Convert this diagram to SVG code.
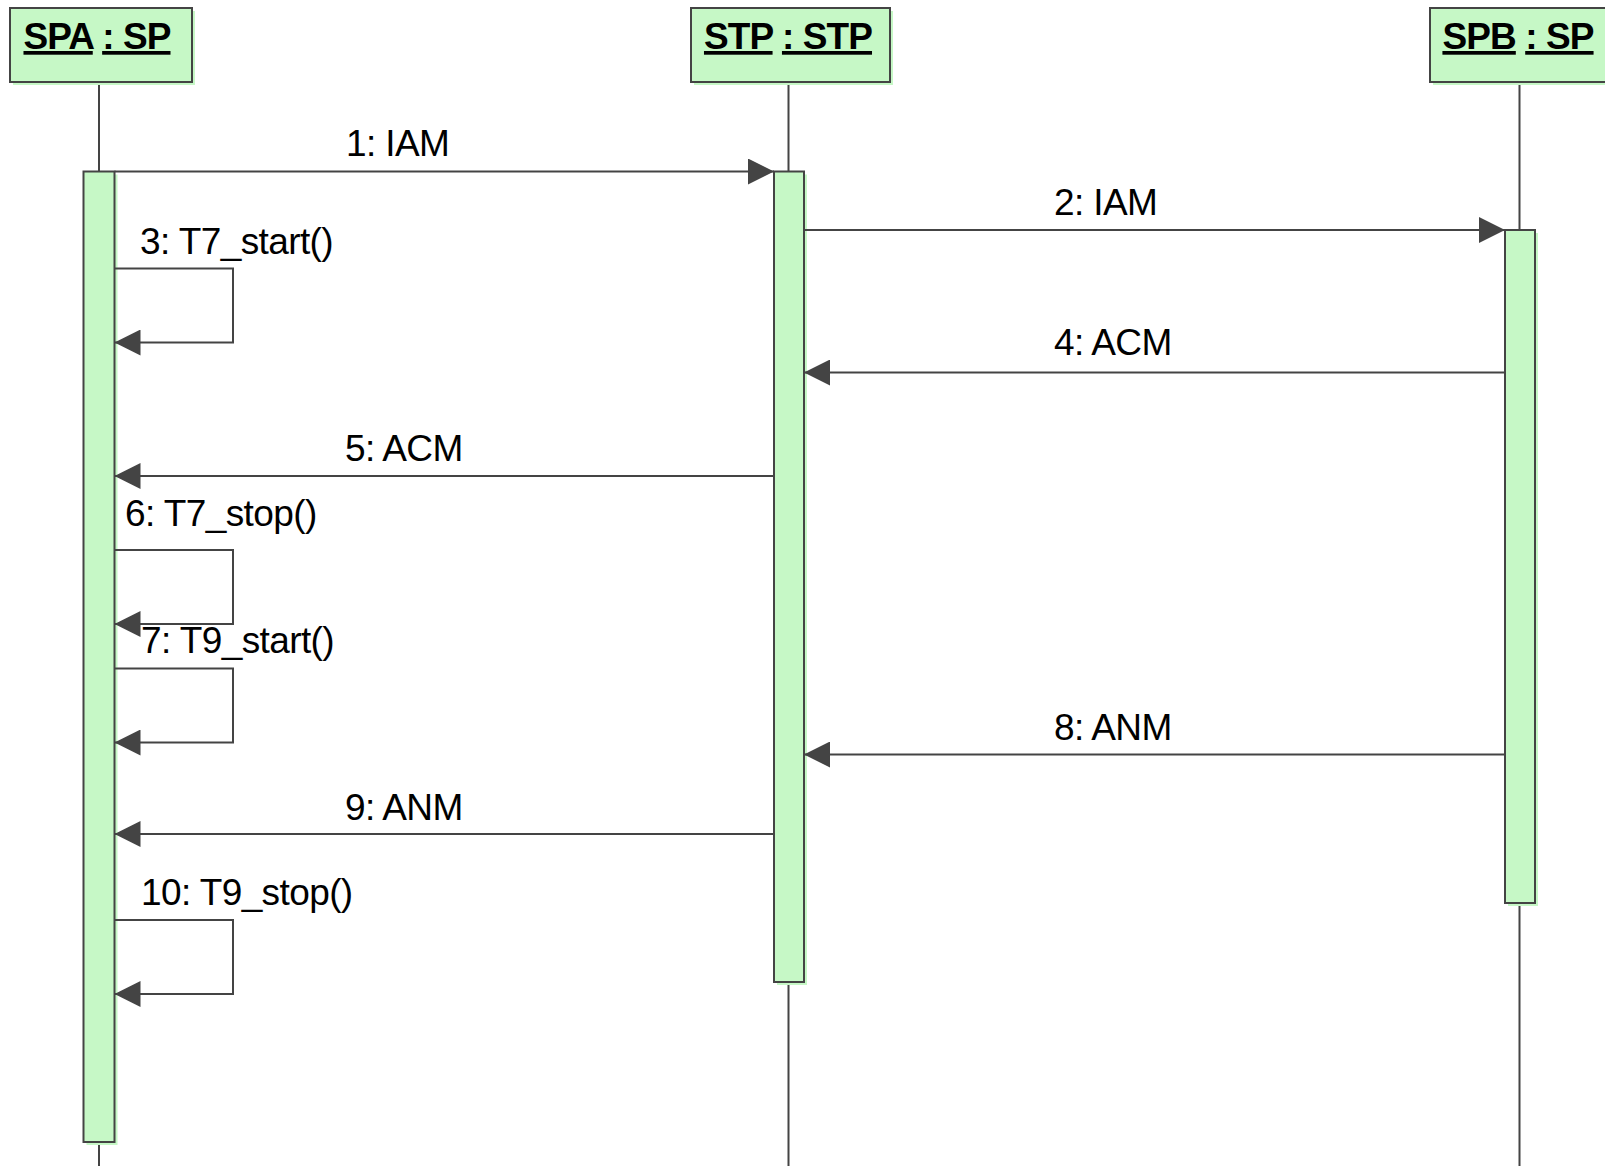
<svg xmlns="http://www.w3.org/2000/svg" width="1605" height="1166" viewBox="0 0 1605 1166">
<style>
.box{fill:#c6f8c6;stroke:#444;stroke-width:2}
.shadow{fill:#c6f8c6;stroke:none}
.life{stroke:#444;stroke-width:2;fill:none}
.msg{stroke:#444;stroke-width:2;fill:none;marker-end:url(#arr)}
.hdr{font-family:"Liberation Sans",Arial,sans-serif;font-weight:bold;font-size:37px;fill:#000;text-anchor:middle;letter-spacing:-0.9px}
.lbl{font-family:"Liberation Sans",Arial,sans-serif;font-size:37px;fill:#000;letter-spacing:-0.6px}
</style>
<defs>
<marker id="arr" markerUnits="userSpaceOnUse" markerWidth="26" markerHeight="26" refX="26" refY="13" orient="auto">
<path d="M0,0 L26,13 L0,26 z" fill="#444"/>
</marker>
</defs>
<rect width="1605" height="1166" fill="#fff"/>

<g id="lifelines">
<line class="life" x1="99" y1="82" x2="99" y2="1166"/>
<line class="life" x1="788.5" y1="82" x2="788.5" y2="1166"/>
<line class="life" x1="1519.5" y1="82" x2="1519.5" y2="1166"/>
</g>

<g id="SPA">
<rect class="shadow" x="13" y="11" width="182" height="74"/>
<rect class="box" x="10" y="8" width="182" height="74"/>
<text class="hdr" x="97" y="49"><tspan text-decoration="underline">SPA</tspan> <tspan text-decoration="underline">: SP</tspan></text>
</g>
<g id="STP">
<rect class="shadow" x="694" y="11" width="199" height="74"/>
<rect class="box" x="691" y="8" width="199" height="74"/>
<text class="hdr" x="788" y="49"><tspan text-decoration="underline">STP</tspan> <tspan text-decoration="underline">: STP</tspan></text>
</g>
<g id="SPB">
<rect class="shadow" x="1433" y="11" width="182" height="74"/>
<rect class="box" x="1430" y="8" width="182" height="74"/>
<text class="hdr" x="1518" y="49"><tspan text-decoration="underline">SPB</tspan> <tspan text-decoration="underline">: SP</tspan></text>
</g>

<g id="SPA_activation">
<rect class="shadow" x="86.5" y="174.5" width="31" height="970.5"/>
<rect class="box" x="83.5" y="171.5" width="31" height="970.5"/>
</g>
<g id="STP_activation">
<rect class="shadow" x="777" y="174.5" width="30" height="810.5"/>
<rect class="box" x="774" y="171.5" width="30" height="810.5"/>
</g>
<g id="SPB_activation">
<rect class="shadow" x="1508" y="233" width="30" height="673"/>
<rect class="box" x="1505" y="230" width="30" height="673"/>
</g>

<g id="connectors">
<line class="msg" x1="114.5" y1="171.5" x2="774" y2="171.5"/>
<line class="msg" x1="804" y1="230" x2="1505" y2="230"/>
<polyline class="msg" points="114.5,268.5 233,268.5 233,342.5 114.5,342.5"/>
<line class="msg" x1="1505" y1="372.5" x2="804" y2="372.5"/>
<line class="msg" x1="774" y1="476" x2="114.5" y2="476"/>
<polyline class="msg" points="114.5,550 233,550 233,624 114.5,624"/>
<polyline class="msg" points="114.5,668.5 233,668.5 233,742.5 114.5,742.5"/>
<line class="msg" x1="1505" y1="754.5" x2="804" y2="754.5"/>
<line class="msg" x1="774" y1="834" x2="114.5" y2="834"/>
<polyline class="msg" points="114.5,920 233,920 233,994 114.5,994"/>
</g>

<g id="labels">
<text class="lbl" x="346" y="156">1: IAM</text>
<text class="lbl" x="1054" y="215">2: IAM</text>
<text class="lbl" x="140" y="254">3: T7_start()</text>
<text class="lbl" x="1054" y="355">4: ACM</text>
<text class="lbl" x="345" y="461">5: ACM</text>
<text class="lbl" x="125" y="526">6: T7_stop()</text>
<text class="lbl" x="141" y="653">7: T9_start()</text>
<text class="lbl" x="1054" y="740">8: ANM</text>
<text class="lbl" x="345" y="820">9: ANM</text>
<text class="lbl" x="141" y="905">10: T9_stop()</text>
</g>
</svg>
